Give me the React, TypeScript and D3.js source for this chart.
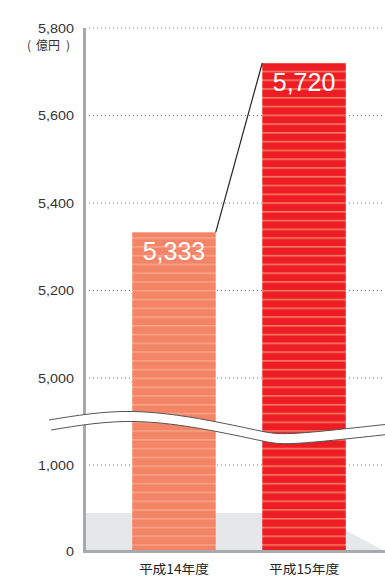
import React from "react";
import * as d3 from "d3";

const categories = ["平成14年度", "平成15年度"];
const values = [5333, 5720];
const upperTicks = [5000, 5200, 5400, 5600, 5800];
const lowerTicks = [0, 1000];
const unitParts = ["(", "億円", ")"];

const W = 385;
const H = 577;

export default function App() {
  const yUpper = d3.scaleLinear().domain([5000, 5800]).range([378, 28]);
  const yLower = d3.scaleLinear().domain([0, 1000]).range([551.5, 465]);
  const x = d3
    .scaleBand<string>()
    .domain(categories)
    .range([88, 390])
    .paddingInner(0.358)
    .paddingOuter(0.34);

  const axisX = 84.5;
  const base = yLower(0);

  // break band (decorative)
  const breakPts: [number, number][] = [
    [49, 420],
    [133, 411.5],
    [217, 422],
    [263, 431.5],
    [300, 433],
    [385, 424.5],
  ];
  const lineGen = d3.line<[number, number]>().curve(d3.curveNatural);
  const upperPath = lineGen(breakPts) as string;
  const lowerPts = breakPts.map(([a, b]) => [a + 2, b + 10] as [number, number]);
  const lowerPath = lineGen(lowerPts) as string;
  const bandPoly =
    (lineGen(breakPts) as string) +
    "L" +
    (lineGen(lowerPts.slice().reverse()) as string).slice(1) +
    "Z";

  const fills = ["url(#stripe1)", "url(#stripe2)"];

  const gridLines = [
    ...upperTicks.map((t) => ({ t, y: yUpper(t) })),
    ...lowerTicks.filter((t) => t > 0).map((t) => ({ t, y: yLower(t) })),
  ];
  const tickLabels = [
    ...upperTicks.map((t) => ({ t, y: yUpper(t) })),
    ...lowerTicks.map((t) => ({ t, y: yLower(t) })),
  ];
  const fmt = d3.format(",");

  const b0 = x(categories[0])! + x.bandwidth();
  const b1 = x(categories[1])!;

  return (
    <svg
      width={W}
      height={H}
      style={{ position: "absolute", left: 0, top: 0, background: "#fff" }}
      fontFamily="'Liberation Sans', Arial, sans-serif"
    >
      <defs>
        <pattern id="stripe1" patternUnits="userSpaceOnUse" width={10} height={8.77} y={0.5}>
          <rect width={10} height={8.77} fill="#f38467" />
          <rect width={10} height={1.6} fill="#f7a386" />
        </pattern>
        <pattern id="stripe2" patternUnits="userSpaceOnUse" width={10} height={8.77} y={0.5}>
          <rect width={10} height={8.77} fill="#ee1d25" />
          <rect width={10} height={1.6} fill="#f47c5e" />
        </pattern>
      </defs>

      {/* floor */}
      <path
        d={`M${axisX},513 L314,513 L${W},${base} L${axisX},${base} Z`}
        fill="#e6e7e8"
      />

      {/* grid lines */}
      {gridLines.map((g) => (
        <line
          key={g.t}
          x1={89}
          x2={W}
          y1={g.y}
          y2={g.y}
          stroke="#777"
          strokeWidth={1}
          strokeDasharray="1,3"
        />
      ))}

      {/* bars */}
      {categories.map((c, i) => (
        <rect
          key={c}
          x={x(c)}
          width={x.bandwidth()}
          y={yUpper(values[i])}
          height={base - yUpper(values[i])}
          fill={fills[i]}
        />
      ))}

      {/* connector */}
      <line
        x1={b0}
        y1={yUpper(values[0])}
        x2={b1}
        y2={yUpper(values[1])}
        stroke="#222"
        strokeWidth={1.2}
      />

      {/* axes */}
      <line x1={axisX} x2={axisX} y1={28} y2={base + 1.5} stroke="#a7a9ac" strokeWidth={3} />
      <line x1={axisX - 1.5} x2={W} y1={base} y2={base} stroke="#a7a9ac" strokeWidth={3} />

      {/* break */}
      <path d={bandPoly} fill="#fff" stroke="none" />
      <path d={upperPath} fill="none" stroke="#555" strokeWidth={1} />
      <path d={lowerPath} fill="none" stroke="#555" strokeWidth={1} />

      {/* value labels */}
      {categories.map((c, i) => (
        <text
          key={c}
          x={x(c)! + x.bandwidth() / 2}
          y={yUpper(values[i]) + 28}
          textAnchor="middle"
          fill="#fff"
          fontSize={25}
        >
          {fmt(values[i])}
        </text>
      ))}

      {/* y tick labels */}
      {tickLabels.map((l) => (
        <text
          key={l.t}
          transform={`translate(${74},${l.y + 4.5}) scale(1.15,1)`}
          textAnchor="end"
          fill="#333"
          fontSize={12.5}
        >
          {fmt(l.t)}
        </text>
      ))}
      <g fill="#333" fontSize={12} fontFamily="'Noto Sans CJK JP', sans-serif">
        <text x={27} y={50}>{unitParts[0]}</text>
        <text x={36} y={50}>{unitParts[1]}</text>
        <text x={66} y={50}>{unitParts[2]}</text>
      </g>

      {/* x labels */}
      {categories.map((c) => (
        <text
          key={c}
          transform={`translate(${x(c)! + x.bandwidth() / 2},${574}) scale(1.1,1)`}
          textAnchor="middle"
          fill="#222"
          fontSize={12.5}
          fontFamily="'Noto Sans CJK JP', sans-serif"
        >
          {c}
        </text>
      ))}
    </svg>
  );
}
